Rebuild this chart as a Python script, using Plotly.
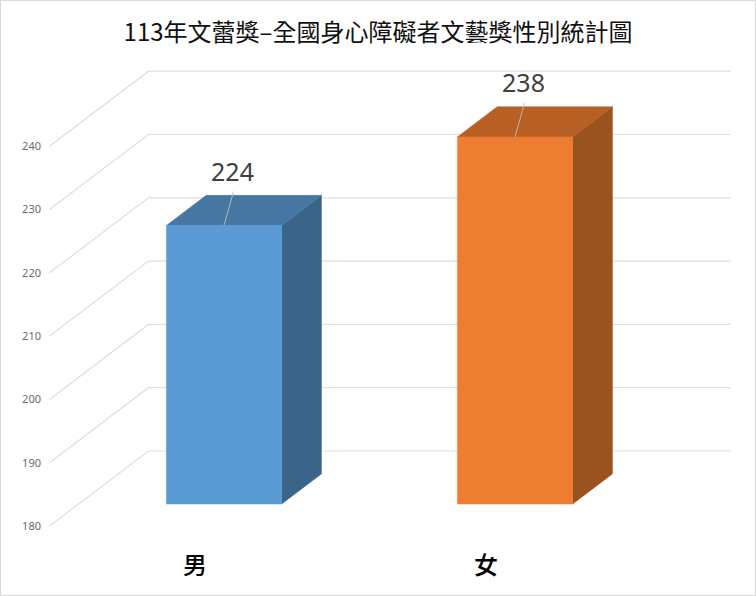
import plotly.graph_objects as go

# data
categories = ["男", "女"]
values = [224, 238]
y_ticks = [180, 190, 200, 210, 220, 230, 240]
bar_colors = ["#5B9BD5", "#ED7D31"]
top_colors = ["#4677A3", "#B85F24"]
side_colors = ["#3A6588", "#9A521E"]

W, H = 756, 596
ML, MR, MT, MB = 42, 4, 52, 50
PX_PER_CAT = 291.0
PX_PER_UNIT = 6.33
X0_PX = 195.0    # pixel of category 0
Y180_PX = 526.0  # pixel of value 180 on the front plane

# oblique depth of the floor, in data units
DEPTH_X = 99 / PX_PER_CAT
DEPTH_Y = 75 / PX_PER_UNIT
BAR_D0, BAR_D1 = 0.293, 0.695
HALF = 0.198


def proj(x, v, d=0.0):
    return x + d * DEPTH_X, v + d * DEPTH_Y


def poly(fig, pts, color):
    xs = [p[0] for p in pts] + [pts[0][0]]
    ys = [p[1] for p in pts] + [pts[0][1]]
    fig.add_trace(go.Scatter(x=xs, y=ys, mode="lines", fill="toself", fillcolor=color,
                             line=dict(color=color, width=0.5), hoverinfo="skip"))


fig = go.Figure()

# walls: gridline goes from the front of the floor to the back, then along the back
gx, gy = [], []
for t in y_ticks:
    for x, d in [(-0.5, 0), (-0.5, 1), (1.5, 1)]:
        px, py = proj(x, t, d)
        gx.append(px)
        gy.append(py)
    gx.append(None)
    gy.append(None)
fig.add_trace(go.Scatter(x=gx, y=gy, mode="lines", line=dict(color="#DEDEDE", width=1.2),
                         hoverinfo="skip"))

for i, v in enumerate(values):
    l, r = i - HALF, i + HALF
    base = y_ticks[0]
    poly(fig, [proj(r, base, BAR_D0), proj(r, base, BAR_D1), proj(r, v, BAR_D1), proj(r, v, BAR_D0)], side_colors[i])
    poly(fig, [proj(l, v, BAR_D0), proj(r, v, BAR_D0), proj(r, v, BAR_D1), proj(l, v, BAR_D1)], top_colors[i])
    poly(fig, [proj(l, base, BAR_D0), proj(r, base, BAR_D0), proj(r, v, BAR_D0), proj(l, v, BAR_D0)], bar_colors[i])

    # leader line and value label
    sx, sy = proj(i, v, BAR_D0)
    ex, ey = sx + 9.5 / PX_PER_CAT, sy + 34 / PX_PER_UNIT
    fig.add_trace(go.Scatter(x=[sx, ex], y=[sy, ey], mode="lines",
                             line=dict(color="rgba(190,190,190,0.9)", width=1), hoverinfo="skip"))
    fig.add_trace(go.Scatter(x=[ex - 1 / PX_PER_CAT], y=[ey + 17 / PX_PER_UNIT], mode="text", text=[str(v)],
                             textposition="middle center",
                             textfont=dict(family="Noto Sans", size=25, color="#404040"),
                             hoverinfo="skip"))

fig.update_layout(
    width=W, height=H,
    margin=dict(l=ML, r=MR, t=MT, b=MB),
    showlegend=False,
    paper_bgcolor="white",
    plot_bgcolor="white",
    title=dict(text="113年文蕾獎–全國身心障礙者文藝獎性別統計圖",
               x=(378) / W, xanchor="center", y=1 - 33 / H, yanchor="middle",
               font=dict(family="Noto Sans CJK TC", size=24, color="#111111")),
    xaxis=dict(range=[(ML - X0_PX) / PX_PER_CAT, (W - MR - X0_PX) / PX_PER_CAT],
               tickvals=[0, 1], ticktext=categories, showgrid=False, zeroline=False,
               showline=False, ticks="", ticklabelstandoff=3,
               tickfont=dict(family="Noto Sans CJK TC", size=24, weight=500, color="black")),
    yaxis=dict(range=[180 - (H - MB - Y180_PX) / PX_PER_UNIT, 180 + (Y180_PX - MT) / PX_PER_UNIT],
               tickvals=y_ticks, showgrid=False, zeroline=False, showline=False, ticks="",
               tickfont=dict(family="Noto Sans", size=11, color="#6A6A6A")),
    shapes=[dict(type="rect", xref="paper", yref="paper",
                 x0=-ML / (W - ML - MR), x1=1 + MR / (W - ML - MR),
                 y0=-MB / (H - MT - MB), y1=1 + MT / (H - MT - MB),
                 line=dict(color="#D9D9D9", width=2), layer="below")],
)

# the page has a default body margin, drop it so the chart fills the window
fig.write_html("out.html", config=dict(displayModeBar=False),
               post_script="document.body.style.margin='0';document.body.style.overflow='hidden';")
